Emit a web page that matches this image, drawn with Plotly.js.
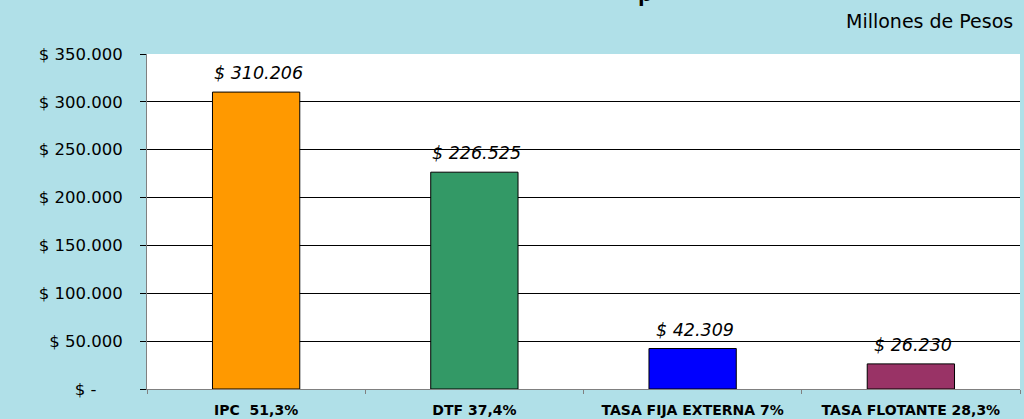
<!DOCTYPE html>
<html>
<head>
<meta charset="utf-8">
<script src="https://cdn.plot.ly/plotly-3.0.1.min.js"></script>
<style>
html,body{margin:0;padding:0;background:#b0e0e8;}
#chart{width:1024px;height:419px;}
</style>
</head>
<body>
<div id="chart"></div>
<script>
const categories = ['IPC  51,3%', 'DTF 37,4%', 'TASA FIJA EXTERNA 7%', 'TASA FLOTANTE 28,3%'];
const values = [310206, 226525, 42309, 26230];
const valueLabels = ['$ 310.206', '$ 226.525', '$ 42.309', '$ 26.230'];
const barColors = ['#FF9900', '#339966', '#0000FF', '#993366'];
const yTickVals = [0, 50000, 100000, 150000, 200000, 250000, 300000, 350000];
const yTickText = ['$ -\u00a0\u00a0\u00a0\u00a0\u00a0', '$ 50.000', '$ 100.000', '$ 150.000', '$ 200.000', '$ 250.000', '$ 300.000', '$ 350.000'];
const unitNote = 'Millones de Pesos';

const FONT = '"DejaVu Sans", Arial, sans-serif';

const trace = {
  type: 'bar',
  x: categories,
  y: values,
  width: 0.4,
  marker: {color: barColors, line: {color: '#000000', width: 1}},
  hoverinfo: 'skip'
};

const annotations = categories.map((c, i) => ({
  x: c, y: values[i], xref: 'x', yref: 'y',
  text: valueLabels[i], showarrow: false,
  yanchor: 'middle', yshift: 19, xshift: 2,
  font: {family: FONT, size: 17.5, color: '#000000', style: 'italic'}
}));
annotations.push({
  xref: 'paper', yref: 'paper', x: 0.994, y: 1.0985,
  xanchor: 'right', yanchor: 'middle', showarrow: false,
  text: unitNote, font: {family: FONT, size: 19, color: '#000000'}
});
annotations.push({
  xref: 'paper', yref: 'paper', x: 0.571, y: 1.136,
  xanchor: 'center', yanchor: 'bottom', showarrow: false,
  text: '<b>p</b>', font: {family: 'Arial, "Liberation Sans", sans-serif', size: 24, color: '#000000'}
});

const layout = {
  width: 1024, height: 419,
  margin: {l: 147, r: 4, t: 54, b: 30, pad: 0},
  paper_bgcolor: '#b0e0e8',
  plot_bgcolor: '#ffffff',
  showlegend: false,
  font: {family: FONT, color: '#000000'},
  xaxis: {
    type: 'category',
    showgrid: false,
    showline: true, linecolor: '#808080', linewidth: 1,
    ticks: 'outside', tickson: 'boundaries', ticklen: 4, tickcolor: '#808080',
    ticklabelstandoff: 8,
    tickfont: {family: FONT, size: 14, color: '#000000', weight: 'bold'},
    fixedrange: true
  },
  yaxis: {
    range: [0, 350000],
    tickvals: yTickVals, ticktext: yTickText,
    showgrid: true, gridcolor: '#000000', gridwidth: 1,
    zeroline: false,
    showline: true, linecolor: '#808080', linewidth: 1,
    ticks: 'outside', ticklen: 6, tickcolor: '#000000',
    ticklabelstandoff: 14,
    tickfont: {family: FONT, size: 16.5, color: '#000000'},
    fixedrange: true
  },
  annotations: annotations
};

Plotly.newPlot('chart', [trace], layout, {displayModeBar: false, staticPlot: true});
</script>
</body>
</html>
